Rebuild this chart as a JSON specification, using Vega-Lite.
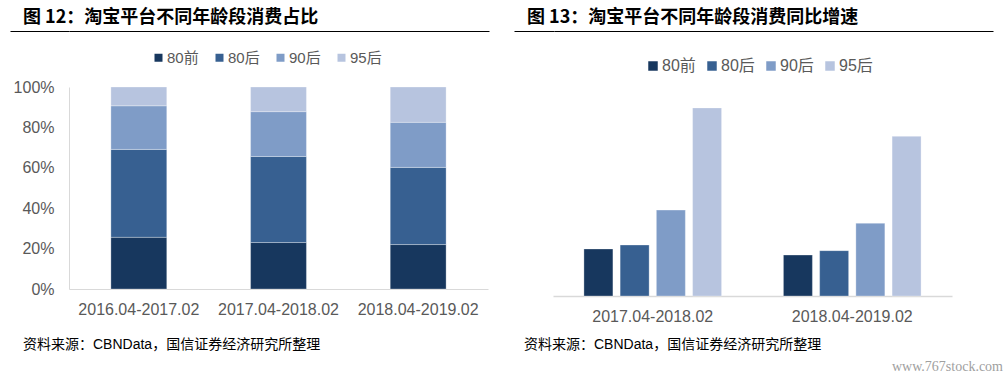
{
  "$schema": "https://vega.github.io/schema/vega-lite/v6.json",
  "background": "white",
  "padding": {"left": 9, "top": 9, "right": 5, "bottom": 5},
  "config": {
    "view": {"stroke": null},
    "font": "Liberation Sans, Noto Sans CJK SC",
    "axis": {"labelFont": "Liberation Sans, Noto Sans CJK SC", "labelColor": "#595959", "labelFontSize": 16, "ticks": false, "grid": false, "domainColor": "#d9d9d9", "title": null},
    "legend": {"labelFont": "Liberation Sans, Noto Sans CJK SC", "labelColor": "#595959", "padding": 0, "symbolType": "square", "symbolStrokeWidth": 0, "layout": {"top": {"anchor": "middle"}}}
  },
  "datasets": {
    "share": [
      {"period": "2016.04-2017.02", "age": "80前", "share": 25.6},
      {"period": "2016.04-2017.02", "age": "80后", "share": 43.5},
      {"period": "2016.04-2017.02", "age": "90后", "share": 21.6},
      {"period": "2016.04-2017.02", "age": "95后", "share": 9.3},
      {"period": "2017.04-2018.02", "age": "80前", "share": 23.0},
      {"period": "2017.04-2018.02", "age": "80后", "share": 42.6},
      {"period": "2017.04-2018.02", "age": "90后", "share": 22.2},
      {"period": "2017.04-2018.02", "age": "95后", "share": 12.2},
      {"period": "2018.04-2019.02", "age": "80前", "share": 22.0},
      {"period": "2018.04-2019.02", "age": "80后", "share": 38.2},
      {"period": "2018.04-2019.02", "age": "90后", "share": 22.3},
      {"period": "2018.04-2019.02", "age": "95后", "share": 17.5}
    ],
    "growth": [
      {"period": "2017.04-2018.02", "age": "80前", "growth": 22.5},
      {"period": "2017.04-2018.02", "age": "80后", "growth": 24.4},
      {"period": "2017.04-2018.02", "age": "90后", "growth": 41.1},
      {"period": "2017.04-2018.02", "age": "95后", "growth": 90.0},
      {"period": "2018.04-2019.02", "age": "80前", "growth": 19.6},
      {"period": "2018.04-2019.02", "age": "80后", "growth": 21.7},
      {"period": "2018.04-2019.02", "age": "90后", "growth": 34.8},
      {"period": "2018.04-2019.02", "age": "95后", "growth": 76.4}
    ]
  },
  "title": {"text": "www.767stock.com", "orient": "bottom", "anchor": "end", "dx": 10, "offset": 8, "fontSize": 14, "fontWeight": "normal", "font": "Liberation Serif", "color": "#a0a0a0"},
  "spacing": 16,
  "vconcat": [
    {
      "spacing": 24,
      "hconcat": [
        {
          "width": 420, "height": 1,
          "data": {"values": [{"k": "fig12"}]},
          "title": {"text": "图 12：淘宝平台不同年龄段消费占比", "anchor": "start", "frame": "group", "dx": -46, "offset": 1, "fontSize": 18, "fontWeight": "bold", "font": "Noto Sans CJK SC", "color": "#000000"},
          "mark": {"type": "point", "opacity": 0},
          "encoding": {
            "x": {"field": "k", "type": "nominal", "axis": {"domain": true, "domainColor": "#000000", "domainWidth": 1, "labels": false, "ticks": false, "title": null}},
            "y": {"datum": 0, "type": "quantitative", "scale": {"domain": [0, 1]}, "axis": {"orient": "left", "domain": false, "labels": false, "ticks": true, "tickSize": 59, "tickColor": "#000000", "tickWidth": 1, "values": [0], "grid": false, "title": null}}
          }
        },
        {
          "width": 439, "height": 1,
          "data": {"values": [{"k": "fig13"}]},
          "title": {"text": "图 13：淘宝平台不同年龄段消费同比增速", "anchor": "start", "frame": "group", "dx": -27, "offset": 1, "fontSize": 18, "fontWeight": "bold", "font": "Noto Sans CJK SC", "color": "#000000"},
          "mark": {"type": "point", "opacity": 0},
          "encoding": {
            "x": {"field": "k", "type": "nominal", "axis": {"domain": true, "domainColor": "#000000", "domainWidth": 1, "labels": false, "ticks": false, "title": null}},
            "y": {"datum": 0, "type": "quantitative", "scale": {"domain": [0, 1]}, "axis": {"orient": "left", "domain": false, "labels": false, "ticks": true, "tickSize": 40, "tickColor": "#000000", "tickWidth": 1, "values": [0], "grid": false, "title": null}}
          }
        }
      ]
    },
    {
      "spacing": 36,
      "resolve": {"scale": {"color": "independent"}, "legend": {"color": "independent"}},
      "hconcat": [
        {
          "width": 419, "height": 202,
          "data": {"name": "share"},
          "title": {"text": "资料来源：CBNData，国信证券经济研究所整理", "orient": "bottom", "anchor": "start", "frame": "group", "dx": -46, "offset": 21, "fontSize": 14, "fontWeight": "normal", "font": "Liberation Sans, Noto Sans CJK SC", "color": "#000000"},
          "mark": {"type": "bar", "stroke": "#ffffff", "strokeWidth": 0.6, "strokeOpacity": 0.5},
          "encoding": {
            "x": {"field": "period", "type": "nominal", "sort": null, "scale": {"paddingInner": 0.6, "paddingOuter": 0.3}, "axis": {"labelAngle": 0, "labelPadding": 12, "domainWidth": 1}},
            "y": {"field": "share", "type": "quantitative", "stack": "normalize", "scale": {"domain": [0, 1]}, "axis": {"values": [0, 0.2, 0.4, 0.6, 0.8, 1], "format": ".0%", "labelPadding": 15, "minExtent": 59, "domainWidth": 1}},
            "color": {"field": "age", "type": "nominal", "scale": {"domain": ["80前", "80后", "90后", "95后"], "range": ["#17375e", "#376091", "#7f9cc7", "#b7c4df"]}, "legend": {"orient": "top", "direction": "horizontal", "title": " ", "titleOrient": "right", "titlePadding": 25, "titleFontSize": 1, "offset": 21, "symbolSize": 64, "labelFontSize": 15, "columnPadding": 13, "labelOffset": 1}},
            "order": {"field": "age", "sort": "ascending"}
          }
        },
        {
          "width": 399, "height": 209,
          "data": {"name": "growth"},
          "title": {"text": "资料来源：CBNData，国信证券经济研究所整理", "orient": "bottom", "anchor": "start", "frame": "group", "dx": -29, "offset": 14, "fontSize": 14, "fontWeight": "normal", "font": "Liberation Sans, Noto Sans CJK SC", "color": "#000000"},
          "mark": {"type": "bar", "stroke": "#ffffff", "strokeWidth": 0.6, "strokeOpacity": 0.5},
          "encoding": {
            "x": {"field": "period", "type": "nominal", "sort": null, "scale": {"paddingInner": 0.31, "paddingOuter": 0.155}, "axis": {"labelAngle": 0, "labelPadding": 12, "domainWidth": 1.5}},
            "xOffset": {"field": "age", "type": "nominal", "sort": ["80前", "80后", "90后", "95后"], "scale": {"paddingInner": 0.2, "paddingOuter": 0}},
            "y": {"field": "growth", "type": "quantitative", "scale": {"domain": [0, 100]}, "axis": null},
            "color": {"field": "age", "type": "nominal", "scale": {"domain": ["80前", "80后", "90后", "95后"], "range": ["#17375e", "#376091", "#7f9cc7", "#b7c4df"]}, "legend": {"orient": "top", "direction": "horizontal", "title": " ", "titleOrient": "left", "titlePadding": 13, "titleFontSize": 1, "offset": 13, "symbolSize": 90, "labelFontSize": 16, "columnPadding": 8, "labelOffset": 1}}
          }
        }
      ]
    }
  ]
}
